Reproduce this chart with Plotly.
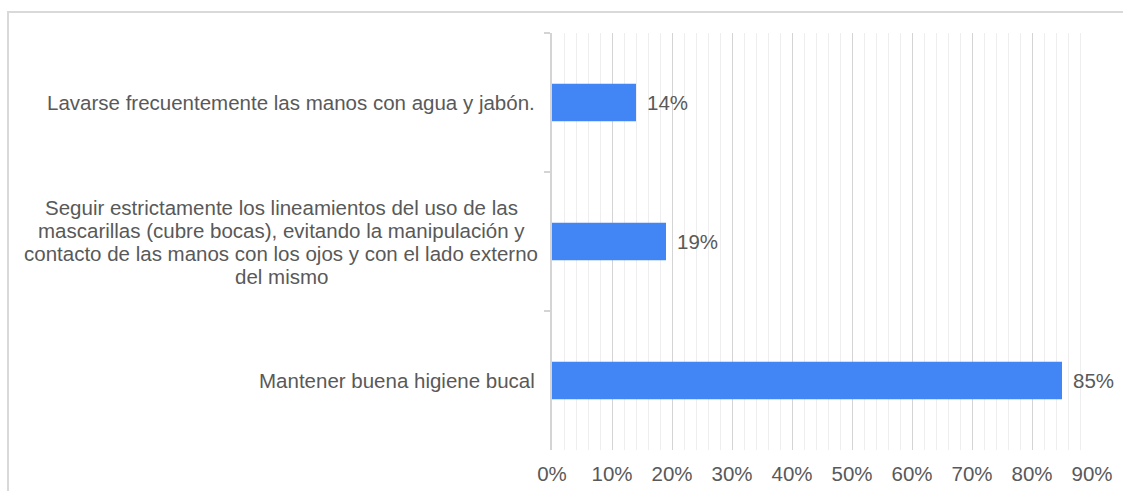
import plotly.graph_objects as go

# Categories (top to bottom), each split into its display lines, and their percentages
categories = [
    ["Lavarse frecuentemente las manos con agua y jabón."],
    [
        "Seguir estrictamente los lineamientos del uso de las",
        "mascarillas (cubre bocas), evitando la manipulación y",
        "contacto de las manos con los ojos y con el lado externo",
        "del mismo",
    ],
    ["Mantener buena higiene bucal"],
]
values = [14, 19, 85]
tick_values = list(range(0, 100, 10))
tick_labels = [f"{v}%" for v in tick_values]

W, H = 1123, 491
L, R, T, B = 552, 31, 33, 41
plot_w = W - L - R
plot_h = H - T - B

TEXT = "#595959"
FONT = "Liberation Sans, Arial, sans-serif"
FSIZE = 20.5
LINE_H = 23          # pixel spacing between wrapped label lines
LABEL_GAP = 15       # gap between label block and the axis
BLOCK_CENTER = 271   # distance from the axis to the centre of wrapped blocks

keys = [f"c{i}" for i in range(len(categories))]

fig = go.Figure(
    go.Bar(
        x=values,
        y=keys,
        orientation="h",
        marker=dict(color="#4285f4", line=dict(width=0)),
        hoverinfo="skip",
    )
)

annotations = []
# Category labels left of the axis; wrapped labels are centred line by line
for k, lines in zip(keys, categories):
    n = len(lines)
    for i, line in enumerate(lines):
        if n == 1:
            anchor, shift = "right", -LABEL_GAP
        else:
            anchor, shift = "center", -BLOCK_CENTER
        annotations.append(dict(
            x=0, y=k, xref="x", yref="y", text=line, showarrow=False,
            xanchor=anchor, yanchor="middle", xshift=shift,
            yshift=((n - 1) / 2 - i) * LINE_H,
            font=dict(family=FONT, size=FSIZE, color=TEXT),
        ))
# Value labels at the end of each bar
for k, v in zip(keys, values):
    annotations.append(dict(
        x=v, y=k, xref="x", yref="y", text=f"{v}%", showarrow=False,
        xanchor="left", yanchor="middle", xshift=9,
        font=dict(family=FONT, size=FSIZE, color=TEXT),
    ))

# Outer frame (only its top and left edges fall inside the page)
def px_x(p):
    return (p - L) / plot_w

def px_y(p):
    return (H - B - p) / plot_h

shapes = [dict(
    type="rect", xref="paper", yref="paper",
    x0=px_x(8), x1=px_x(W + 20), y0=px_y(H + 20), y1=px_y(12),
    line=dict(color="#d9d9d9", width=2), layer="below",
)]

fig.update_layout(
    width=W, height=H,
    margin=dict(l=L, r=R, t=T, b=B, pad=0, autoexpand=False),
    paper_bgcolor="white", plot_bgcolor="white",
    showlegend=False,
    bargap=0.73,
    annotations=annotations,
    shapes=shapes,
    font=dict(family=FONT, size=FSIZE, color=TEXT),
)
fig.update_xaxes(
    range=[0, 90],
    tickvals=tick_values, ticktext=tick_labels,
    showgrid=True, gridcolor="#d4d4d4", gridwidth=1,
    minor=dict(dtick=2, showgrid=True, gridcolor="#eeeeee", gridwidth=1),
    zeroline=False, showline=False, ticks="",
    ticklabelstandoff=9,
    automargin=False,
    tickfont=dict(family=FONT, size=FSIZE, color=TEXT),
    fixedrange=True,
)
fig.update_yaxes(
    type="category",
    categoryorder="array", categoryarray=keys,
    range=[len(keys) - 0.5, -0.5],
    showticklabels=False,
    showline=True, linecolor="#d4d4d4", linewidth=1.5,
    ticks="outside", ticklen=6, tickcolor="#d4d4d4", tickwidth=1.5,
    tickson="boundaries",
    showgrid=False, zeroline=False,
    automargin=False,
    fixedrange=True,
)

fig.write_html("out.html")
